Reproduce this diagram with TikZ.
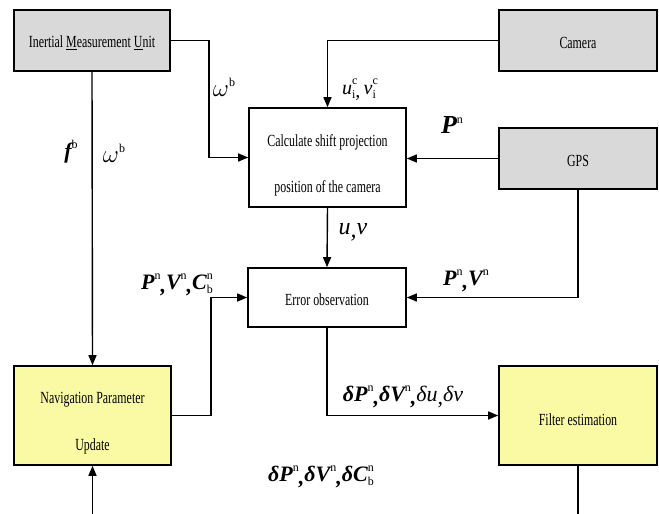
\documentclass[tikz,border=0pt]{standalone}
\usepackage{fontspec}
\setmainfont{Liberation Serif}
\newfontfamily\boxfont[FakeStretch=0.7]{Liberation Serif}
\usetikzlibrary{arrows.meta}

\definecolor{boxgray}{RGB}{217,217,217}
\definecolor{boxyellow}{RGB}{250,250,165}

% small upright indices for the signal labels
\newcommand\idx{\normalfont\fontsize{12}{12}\selectfont}
\newcommand\up[1]{\raisebox{10pt}{\idx #1}}
\newcommand\dn[1]{\raisebox{-4pt}{\idx #1}}
\newcommand\updn[2]{\rlap{\up{#1}}\dn{#2}}
\newcommand\lc{\raisebox{-3pt}{,}}

\tikzset{
  box/.style={draw, line width=1.6pt, inner sep=0pt},
  sens/.style={box, fill=boxgray},
  proc/.style={box, fill=white},
  yel/.style={box, fill=boxyellow},
  txt/.style={inner sep=0pt, font=\boxfont\fontsize{17}{20}\selectfont},
  wire/.style={line width=1.4pt},
  arr/.style={wire, -{Triangle[length=10pt,width=8pt]}},
  lab/.style={inner sep=0pt, font=\fontsize{22}{24}\selectfont\bfseries\itshape},
  labl/.style={inner sep=0pt, font=\fontsize{24}{26}\selectfont\itshape},
}

\begin{document}
\begin{tikzpicture}[x=1pt, y=-1pt]
\useasboundingbox (0,0) rectangle (659,514);

% sensors
\node[sens, minimum width=156pt, minimum height=61pt] (imu) at (92,40.5) {};
\node[txt] at (92,43) {Inertial \underline{M}easurement \underline{U}nit};
\node[sens, minimum width=158pt, minimum height=61pt] (cam) at (578,40.5) {};
\node[txt] at (578,43) {Camera};
\node[sens, minimum width=158pt, minimum height=61pt] (gps) at (578,158.5) {};
\node[txt] at (578,161) {GPS};

% processing blocks
\node[proc, minimum width=157pt, minimum height=99pt] (calc) at (327.5,157.5) {};
\node[txt] at (327.5,142) {Calculate shift projection};
\node[txt] at (327.5,188) {position of the camera};
\node[proc, minimum width=158pt, minimum height=59pt] (err) at (327,297.5) {};
\node[txt] at (327,300) {Error observation};
\node[yel, minimum width=157pt, minimum height=99pt] (nav) at (92.5,415.5) {};
\node[txt] at (92.5,400) {Navigation Parameter};
\node[txt] at (92.5,446) {Update};
\node[yel, minimum width=158pt, minimum height=99pt] (filt) at (578,415.5) {};
\node[txt] at (578,420) {Filter estimation};

% loose ends at the lower border
\coordinate (navin) at (92.5,514);
\coordinate (filtout) at (578,514);

% connectors
\draw[arr] (imu.east) -- (209,40.5) |- (calc.west);
\draw[arr] (imu.south) -- (nav.north);
\draw[arr] (cam.west) -| (calc.north);
\draw[arr] (gps.west) -- (gps.west -| calc.east);
\draw[arr] (calc.south) -- (err.north);
\draw[arr] (gps.south) |- (err.east);
\draw[arr] (nav.east) -- ++(39,0) |- (err.west);
\draw[arr] (err.south) |- (filt.west);
\draw[wire] (filt.south) -- (filtout);
\draw[arr] (navin) -- (nav.south);

% signal labels
\node[labl] at (224,87) {$\omega$\up{b}};
\node[lab] at (71,152) {f\up{b}};
\node[labl] at (114,153) {$\omega$\up{b}};
\node[inner sep=0pt, font=\fontsize{20}{22}\selectfont\itshape] at (359,90) {u\updn{c}{i}\lc\,v\updn{c}{i}};
\node[lab, font=\fontsize{26}{28}\selectfont\bfseries\itshape] at (452,125) {P\up{n}};
\node[labl] at (353,232) {u\lc v};
\node[lab] at (177,285) {P\up{n}\lc V\up{n}\lc C\updn{n}{b}};
\node[lab] at (466,281) {P\up{n}\lc V\up{n}};
\node[lab] at (403,397) {δP\up{n}\lc δV\up{n}\lc \textmd{δu\lc δv}};
\node[lab] at (321,477) {δP\up{n}\lc δV\up{n}\lc δC\updn{n}{b}};
\end{tikzpicture}
\end{document}
